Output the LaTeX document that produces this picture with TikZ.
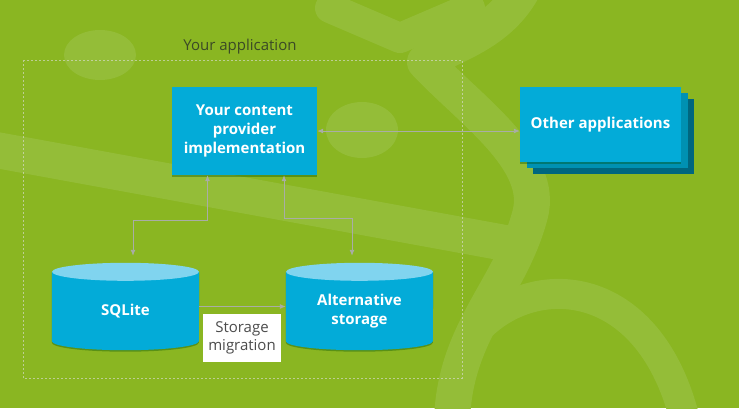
\documentclass[tikz,border=0pt]{standalone}
\usepackage{fontspec}
\setmainfont{Open Sans}
\usetikzlibrary{arrows.meta, positioning, calc, shadows, backgrounds}
\definecolor{bggreen}{HTML}{8AB622}
\definecolor{lightgreen}{HTML}{94BD38}
\definecolor{boxblue}{HTML}{03ABD8}
\definecolor{boxmid}{HTML}{0091B2}
\definecolor{boxdark}{HTML}{00677F}
\definecolor{capblue}{HTML}{80D4EF}
\definecolor{linegray}{HTML}{A9ADA6}
\definecolor{labeltext}{HTML}{3B4A26}

\begin{document}
\begin{tikzpicture}[x=1pt, y=-1pt,
      lift/.style={drop shadow={shadow xshift=0pt, shadow yshift=-1.5pt, opacity=0.35, fill=black!70!green}},
      block/.style={fill=boxblue, lift, text=white, font=\bfseries\fontsize{15}{19}\selectfont, align=center, inner sep=0pt},
      store/.style={minimum width=147pt, minimum height=60pt, inner sep=0pt, text=white, font=\bfseries\fontsize{15}{19}\selectfont, align=center},
      link/.style={draw=linegray, line width=0.9pt, {Latex[length=6pt,width=5pt]}-{Latex[length=6pt,width=5pt]}},
      deco/.style={draw=lightgreen, line cap=round, line join=round}
    ]
      \useasboundingbox (0,0) rectangle (739,408);
      % background
      \begin{scope}[on background layer]
        \clip (0,0) rectangle (739,408);
        \fill[bggreen] (0,0) rectangle (739,408);
        \fill[lightgreen] (100,55) ellipse (36 and 25);
        \fill[lightgreen] (362,130) ellipse (36 and 28);
        \draw[deco, line width=36pt] (-20,147) -- (505,243);
        \draw[deco, line width=30pt] (330,8) -- (400,38) -- (470,8);
        \draw[deco, line width=36pt] (525,-15) .. controls (500,35) and (450,45) .. (425,62)
          .. controls (470,110) and (545,160) .. (530,215) .. controls (510,290) and (455,330) .. (452,420);
        \draw[deco, line width=30pt] (482,325) .. controls (540,270) and (650,280) .. (685,420);
      \end{scope}

      % your application frame
      \draw[white!75!gray, opacity=0.6, line width=0.5pt, dash pattern=on 2pt off 2pt] (23,60) rectangle (462,378);
      \node[text=labeltext, font=\fontsize{15}{17}\selectfont] (app) at (240,47) {Your application};

      % nodes
      \node[block, minimum width=145pt, minimum height=88pt] (cp) at (244.5,131) {Your content\\provider\\implementation};
      \node[fill=boxdark, minimum width=161pt, minimum height=75pt] (other3) at (613.5,136.5) {};
      \node[fill=boxmid, minimum width=161pt, minimum height=75pt] (other2) at (607.5,130.5) {};
      \node[block, minimum width=161pt, minimum height=75pt] (other) at (600.5,124.5) {Other applications};
      \node[store] (sql) at (125.5,311) {SQLite};
      \node[store] (alt) at (359.5,311) {Alternative\\storage};
      \node[fill=white, text=black!70, font=\fontsize{15}{18}\selectfont, align=center, minimum width=78pt, minimum height=48pt, inner sep=0pt] (mig) at (242,338) {Storage\\migration};

      % cylinders behind their labels
      \begin{scope}[on background layer]
        \foreach \db in {sql,alt}{
          \fill[black!70!green, opacity=0.35] ($(\db.north west)+(0,-7.5)$) -- ($(\db.south west)+(0,1.5)$)
            arc[start angle=180, end angle=0, x radius=73.5, y radius=9] -- ($(\db.north east)+(0,-7.5)$) -- cycle;
          \fill[boxblue] ($(\db.north west)+(0,-9)$) -- (\db.south west)
            arc[start angle=180, end angle=0, x radius=73.5, y radius=9] -- ($(\db.north east)+(0,-9)$) -- cycle;
          \fill[capblue] ($(\db.north)+(0,-9)$) ellipse (73.5 and 9);
        }
      \end{scope}

      % connectors
      \draw[link] (cp.east) -- (other.west |- cp.east);
      \draw[link] ($(cp.south)+(-37,0)$) -- ++(0,45) -| ($(sql.north)+(7.5,-25)$);
      \draw[link] ($(cp.south)+(39.5,0)$) -- ++(0,43) -| ($(alt.north)+(-7.5,-25)$);
      \draw[draw=linegray, line width=0.9pt, -{Latex[length=6pt,width=5pt]}] ($(sql.east)+(0,-4.5)$) -- ($(alt.west)+(0,-4.5)$);
    \end{tikzpicture}
\end{document}
